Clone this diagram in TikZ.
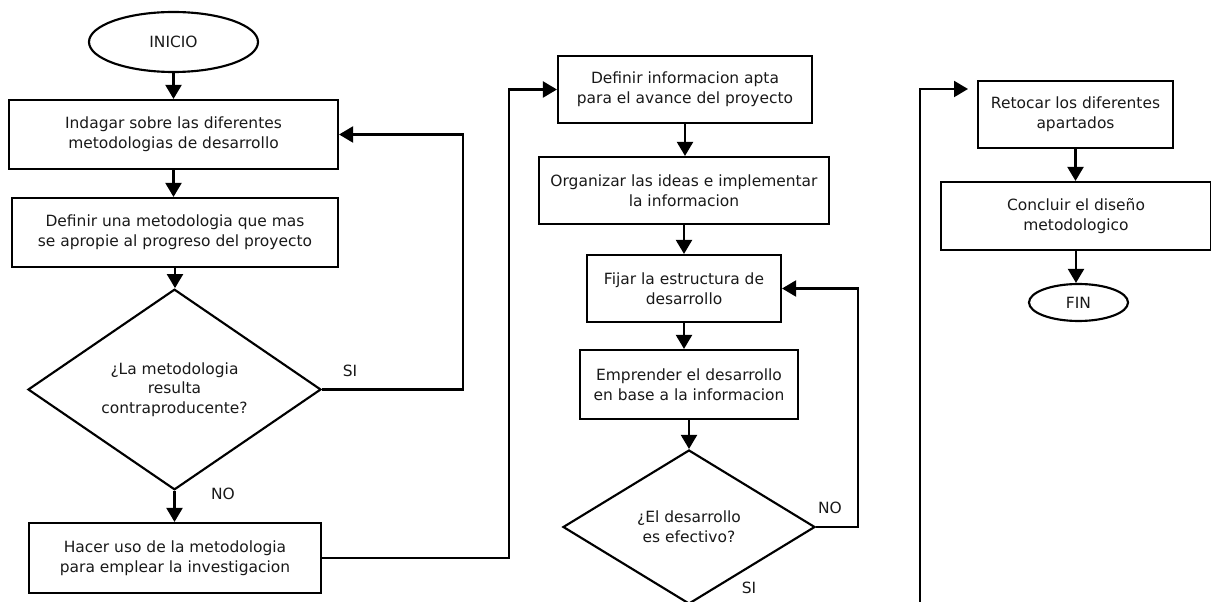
\documentclass[tikz,border=0pt]{standalone}
\usepackage{fontspec}
\setmainfont{DejaVu Sans}
\usetikzlibrary{shapes.geometric,arrows.meta}

\tikzset{
  base/.style={draw=black, line width=1.6pt, align=center, inner sep=2pt,
    font=\fontsize{11.6pt}{14.8pt}\selectfont, text=black!90},
  wh/.style 2 args={minimum width={#1*0.75pt}, minimum height={#2*0.75pt}},
  proc/.style={base, rectangle},
  term/.style={base, ellipse, inner sep=0pt},
  decide/.style={base, diamond, inner sep=0pt},
  arr/.style={line width=1.6pt, -{Triangle[length=10.5pt,width=12pt]}},
  lbl/.style={font=\fontsize{11.6pt}{14pt}\selectfont, text=black!90}
}

\begin{document}
\begin{tikzpicture}[x=0.75pt, y=-0.75pt]
  \useasboundingbox (0,0) rectangle (1211,602);

  % first column
  \node[term, wh={169}{60}] (inicio) at (173.5,42) {INICIO};
  \node[proc, wh={329}{69}] (b1) at (173.5,134.5)
    {Indagar sobre las diferentes\\metodologias de desarrollo};
  \node[proc, wh={326}{69}] (b2) at (175,232.5)
    {Definir una metodologia que mas\\se apropie al progreso del proyecto};
  \node[decide, wh={293}{183}] (d1) at (174.5,389.5)
    {¿La metodologia\\resulta\\contraproducente?};
  \node[proc, wh={292}{70}] (b3) at (175,558)
    {Hacer uso de la metodologia\\para emplear la investigacion};

  % second column
  \node[proc, wh={254}{67}] (b4) at (685,89.5)
    {Definir informacion apta\\para el avance del proyecto};
  \node[proc, wh={290}{67}] (b5) at (684,190.5)
    {Organizar las ideas e implementar\\la informacion};
  \node[proc, wh={194}{67}] (b6) at (684,288.5)
    {Fijar la estructura de\\desarrollo};
  \node[proc, wh={218}{69}] (b7) at (689,384.5)
    {Emprender el desarrollo\\en base a la informacion};
  \node[decide, wh={252}{154}] (d2) at (689,527)
    {¿El desarrollo\\es efectivo?};

  % third column
  \node[proc, wh={195}{67}] (b8) at (1075.5,114.5)
    {Retocar los diferentes\\apartados};
  \node[proc, wh={270}{68}] (b9) at (1076,216)
    {Concluir el diseño\\metodologico};
  \node[term, wh={99}{37}] (fin) at (1078.5,302.5) {FIN};

  % helper points for the long connectors
  \coordinate (c1) at (509,300);
  \coordinate (c2) at (858,400);
  \coordinate (c3) at (463,250);
  \coordinate (rb) at (920,615);
  \coordinate (rt) at (968,89);

  % straight flow
  \draw[arr] (inicio.south) -- (inicio.south |- b1.north);
  \draw[arr] (b1.south) -- (b1.south |- b2.north);
  \draw[arr] (b2.south) -- (b2.south |- d1.north);
  \draw[arr] (d1.south) -- (d1.south |- b3.north);
  \draw[arr] (b4.south) -- (b4.south |- b5.north);
  \draw[arr] (b5.south) -- (b5.south |- b6.north);
  \draw[arr] (b6.south) -- (b6.south |- b7.north);
  \draw[arr] (b7.south) -- (b7.south |- d2.north);
  \draw[arr] (b8.south) -- (b8.south |- b9.north);
  \draw[arr] (b9.south) -- (b9.south |- fin.north);

  % loops and jumps between columns
  \draw[arr] (d1.east) -| (c3) |- (b1.east);
  \draw[arr] (b3.east) -| (c1) |- (b4.west);
  \draw[arr] (d2.east) -| (c2) |- (b6.east);
  \draw[arr] (rb) |- (rt);

  % branch labels
  \node[lbl] (si1) at (350,371) {SI};
  \node[lbl] (no1) at (223,494) {NO};
  \node[lbl] (no2) at (830,508) {NO};
  \node[lbl] (si2) at (749,588) {SI};
\end{tikzpicture}
\end{document}
